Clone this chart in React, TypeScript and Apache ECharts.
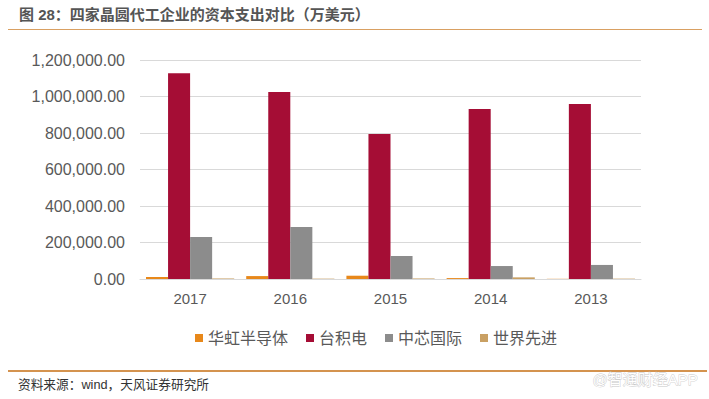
import React, { useEffect, useRef } from "react";
import * as echarts from "echarts";

const categories = ["2017", "2016", "2015", "2014", "2013"];
const huahong = [11000, 16000, 18000, 5000, 1000];
const tsmc = [1127000, 1025000, 795000, 932000, 959000];
const smic = [230000, 285000, 126000, 71000, 77000];
const vis = [3000, 2000, 3000, 9000, 2000];
const seriesNames = ["华虹半导体", "台积电", "中芯国际", "世界先进"];
const colors = ["#E8881A", "#A50D35", "#8C8C8C", "#C9A063"];

const FONT = "'Liberation Sans', Arial, 'Noto Sans CJK SC', sans-serif";

export default function App() {
  const ref = useRef<HTMLDivElement>(null);
  useEffect(() => {
    const chart = echarts.init(ref.current!, null, { renderer: "svg" });
    const data = [huahong, tsmc, smic, vis];
    chart.setOption({
      animation: false,
      backgroundColor: "#ffffff",
      textStyle: { fontFamily: FONT },
      grid: { left: 140, right: 68, top: 60, bottom: 120 },
      legend: {
        left: 190,
        top: 325,
        itemWidth: 8,
        itemHeight: 8,
        itemGap: 18,
        icon: "rect",
        textStyle: { fontSize: 16, color: "#595959", fontFamily: FONT },
        data: seriesNames,
      },
      xAxis: {
        type: "category",
        data: categories,
        axisLine: { lineStyle: { color: "#D9D9D9" } },
        axisTick: { show: false },
        axisLabel: { fontSize: 15, color: "#595959", margin: 12 },
      },
      yAxis: {
        type: "value",
        min: 0,
        max: 1200000,
        interval: 200000,
        axisLine: { show: false },
        axisTick: { show: false },
        splitLine: { lineStyle: { color: "#D9D9D9" } },
        axisLabel: {
          fontSize: 16,
          color: "#595959",
          margin: 15,
          formatter: (v: number) =>
            v.toLocaleString("en-US", { minimumFractionDigits: 2, maximumFractionDigits: 2 }),
        },
      },
      series: seriesNames.map((name, i) => ({
        name,
        type: "bar",
        data: data[i],
        barGap: "0%",
        barCategoryGap: "12%",
        itemStyle: { color: colors[i] },
      })),
      graphic: [
        {
          type: "text",
          left: 19,
          top: 7,
          style: {
            text: "图 28：四家晶圆代工企业的资本支出对比（万美元）",
            fontSize: 15,
            fontWeight: "bold",
            fill: "#555555",
            fontFamily: FONT,
          },
        },
        {
          type: "line",
          shape: { x1: 8, y1: 29.5, x2: 702, y2: 29.5 },
          style: { stroke: "#D9A062", lineWidth: 1 },
        },
        {
          type: "line",
          shape: { x1: 8, y1: 371, x2: 707, y2: 371 },
          style: { stroke: "#D4934F", lineWidth: 2 },
        },
        {
          type: "text",
          left: 18,
          top: 379,
          style: {
            text: "资料来源：wind，天风证券研究所",
            fontSize: 12.7,
            fill: "#333333",
            fontFamily: FONT,
          },
        },
        {
          type: "text",
          left: 592,
          top: 372,
          style: {
            text: "@智通财经APP",
            fontSize: 15,
            fill: "#FFFFFF",
            stroke: "#C8C8C8",
            lineWidth: 0.8,
            fontFamily: FONT,
          },
        },
      ],
    });
    return () => chart.dispose();
  }, []);
  return <div ref={ref} style={{ width: 709, height: 399, position: "absolute", left: 0, top: 0 }} />;
}
